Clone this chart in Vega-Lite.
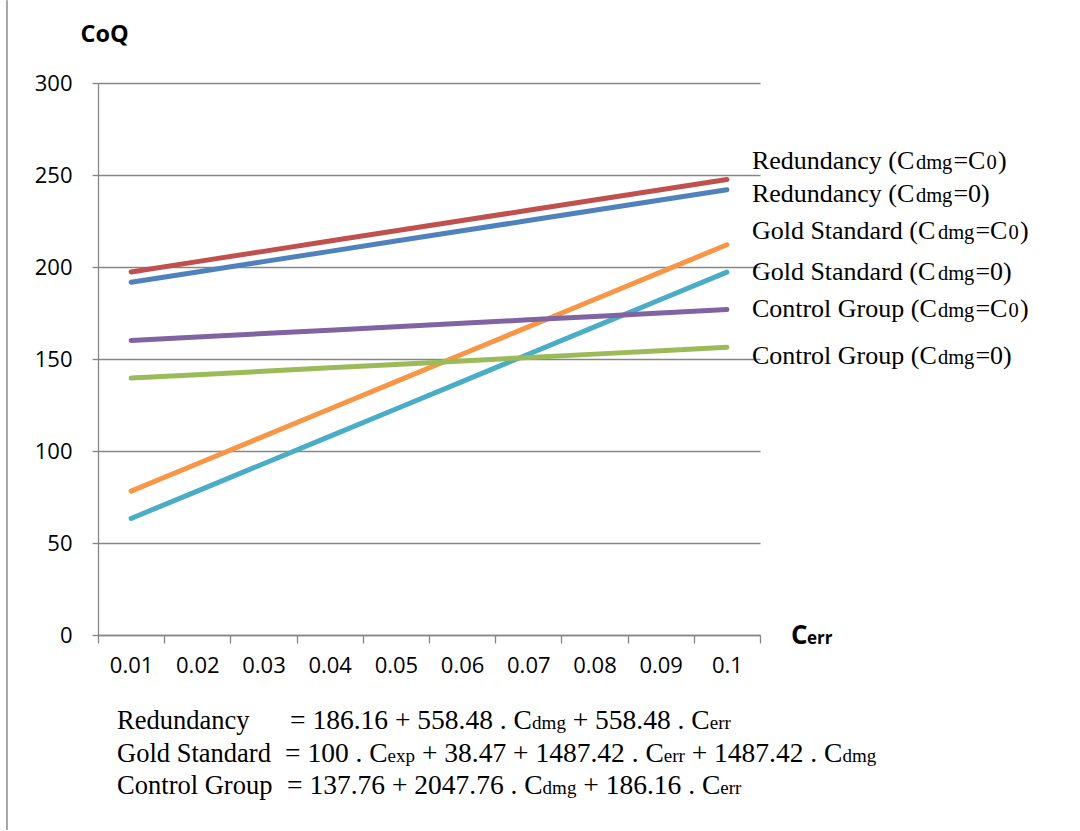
{
  "$schema": "https://vega.github.io/schema/vega-lite/v6.json",
  "width": 662,
  "height": 552,
  "autosize": {"type": "none"},
  "padding": {"left": 98, "top": 83, "right": 320, "bottom": 196},
  "background": "white",
  "config": {"view": {"stroke": null}},
  "datasets": {
    "lines": [
      {"s": "Redundancy (Cdmg=C0)", "x": 0.01, "v": 197.33}, {"s": "Redundancy (Cdmg=C0)", "x": 0.02, "v": 202.91}, {"s": "Redundancy (Cdmg=C0)", "x": 0.03, "v": 208.50}, {"s": "Redundancy (Cdmg=C0)", "x": 0.04, "v": 214.08}, {"s": "Redundancy (Cdmg=C0)", "x": 0.05, "v": 219.67}, {"s": "Redundancy (Cdmg=C0)", "x": 0.06, "v": 225.25}, {"s": "Redundancy (Cdmg=C0)", "x": 0.07, "v": 230.84}, {"s": "Redundancy (Cdmg=C0)", "x": 0.08, "v": 236.42}, {"s": "Redundancy (Cdmg=C0)", "x": 0.09, "v": 242.01}, {"s": "Redundancy (Cdmg=C0)", "x": 0.1, "v": 247.59},
      {"s": "Redundancy (Cdmg=0)", "x": 0.01, "v": 191.74}, {"s": "Redundancy (Cdmg=0)", "x": 0.02, "v": 197.33}, {"s": "Redundancy (Cdmg=0)", "x": 0.03, "v": 202.91}, {"s": "Redundancy (Cdmg=0)", "x": 0.04, "v": 208.50}, {"s": "Redundancy (Cdmg=0)", "x": 0.05, "v": 214.08}, {"s": "Redundancy (Cdmg=0)", "x": 0.06, "v": 219.67}, {"s": "Redundancy (Cdmg=0)", "x": 0.07, "v": 225.25}, {"s": "Redundancy (Cdmg=0)", "x": 0.08, "v": 230.84}, {"s": "Redundancy (Cdmg=0)", "x": 0.09, "v": 236.42}, {"s": "Redundancy (Cdmg=0)", "x": 0.1, "v": 242.01},
      {"s": "Gold Standard (Cdmg=C0)", "x": 0.01, "v": 78.22}, {"s": "Gold Standard (Cdmg=C0)", "x": 0.02, "v": 93.09}, {"s": "Gold Standard (Cdmg=C0)", "x": 0.03, "v": 107.97}, {"s": "Gold Standard (Cdmg=C0)", "x": 0.04, "v": 122.84}, {"s": "Gold Standard (Cdmg=C0)", "x": 0.05, "v": 137.72}, {"s": "Gold Standard (Cdmg=C0)", "x": 0.06, "v": 152.59}, {"s": "Gold Standard (Cdmg=C0)", "x": 0.07, "v": 167.46}, {"s": "Gold Standard (Cdmg=C0)", "x": 0.08, "v": 182.34}, {"s": "Gold Standard (Cdmg=C0)", "x": 0.09, "v": 197.21}, {"s": "Gold Standard (Cdmg=C0)", "x": 0.1, "v": 212.08},
      {"s": "Gold Standard (Cdmg=0)", "x": 0.01, "v": 63.34}, {"s": "Gold Standard (Cdmg=0)", "x": 0.02, "v": 78.22}, {"s": "Gold Standard (Cdmg=0)", "x": 0.03, "v": 93.09}, {"s": "Gold Standard (Cdmg=0)", "x": 0.04, "v": 107.97}, {"s": "Gold Standard (Cdmg=0)", "x": 0.05, "v": 122.84}, {"s": "Gold Standard (Cdmg=0)", "x": 0.06, "v": 137.72}, {"s": "Gold Standard (Cdmg=0)", "x": 0.07, "v": 152.59}, {"s": "Gold Standard (Cdmg=0)", "x": 0.08, "v": 167.46}, {"s": "Gold Standard (Cdmg=0)", "x": 0.09, "v": 182.34}, {"s": "Gold Standard (Cdmg=0)", "x": 0.1, "v": 197.21},
      {"s": "Control Group (Cdmg=C0)", "x": 0.01, "v": 160.10}, {"s": "Control Group (Cdmg=C0)", "x": 0.02, "v": 161.96}, {"s": "Control Group (Cdmg=C0)", "x": 0.03, "v": 163.82}, {"s": "Control Group (Cdmg=C0)", "x": 0.04, "v": 165.69}, {"s": "Control Group (Cdmg=C0)", "x": 0.05, "v": 167.55}, {"s": "Control Group (Cdmg=C0)", "x": 0.06, "v": 169.41}, {"s": "Control Group (Cdmg=C0)", "x": 0.07, "v": 171.27}, {"s": "Control Group (Cdmg=C0)", "x": 0.08, "v": 173.13}, {"s": "Control Group (Cdmg=C0)", "x": 0.09, "v": 174.99}, {"s": "Control Group (Cdmg=C0)", "x": 0.1, "v": 176.86},
      {"s": "Control Group (Cdmg=0)", "x": 0.01, "v": 139.62}, {"s": "Control Group (Cdmg=0)", "x": 0.02, "v": 141.48}, {"s": "Control Group (Cdmg=0)", "x": 0.03, "v": 143.34}, {"s": "Control Group (Cdmg=0)", "x": 0.04, "v": 145.21}, {"s": "Control Group (Cdmg=0)", "x": 0.05, "v": 147.07}, {"s": "Control Group (Cdmg=0)", "x": 0.06, "v": 148.93}, {"s": "Control Group (Cdmg=0)", "x": 0.07, "v": 150.79}, {"s": "Control Group (Cdmg=0)", "x": 0.08, "v": 152.65}, {"s": "Control Group (Cdmg=0)", "x": 0.09, "v": 154.51}, {"s": "Control Group (Cdmg=0)", "x": 0.1, "v": 156.38}
    ],
    "labels": [
      {"name": "Redundancy (C", "grp": "R", "c0": true, "mid": "=C", "ly": 253.3},
      {"name": "Redundancy (C", "grp": "R", "c0": false, "mid": "=0)", "ly": 235.3},
      {"name": "Gold Standard (C", "grp": "G", "c0": true, "mid": "=C", "ly": 215.2},
      {"name": "Gold Standard (C", "grp": "G", "c0": false, "mid": "=0)", "ly": 193.2},
      {"name": "Control Group (C", "grp": "G", "c0": true, "mid": "=C", "ly": 172.8},
      {"name": "Control Group (C", "grp": "G", "c0": false, "mid": "=0)", "ly": 147.3}
    ]
  },
  "layer": [
    {
      "data": {"values": [{"t": "border"}]},
      "mark": {"type": "rule", "color": "#A6A6A6", "strokeWidth": 2},
      "encoding": {"x": {"datum": -0.00875}, "y": {"datum": 345}, "y2": {"datum": -106}}
    },
    {
      "data": {"name": "lines"},
      "mark": {"type": "line", "strokeWidth": 5, "strokeCap": "round", "strokeJoin": "round"},
      "encoding": {
        "x": {
          "field": "x", "type": "quantitative",
          "scale": {"domain": [0.005, 0.105], "nice": false, "zero": false},
          "axis": {
            "values": [0.005, 0.015, 0.025, 0.035, 0.045, 0.055, 0.065, 0.075, 0.085, 0.095, 0.105],
            "labelExpr": "datum.value > 0.1 ? '' : format(datum.value + 0.005, '.2~f')",
            "labelOffset": 33.1, "labelFlush": false, "labelOverlap": false, "labelBound": false,
            "tickSize": 8, "tickColor": "#868686", "tickWidth": 1.3,
            "domainColor": "#868686", "domainWidth": 1.3,
            "grid": false, "title": null,
            "labelFont": "Open Sans", "labelFontSize": 22, "labelColor": "#000000", "labelPadding": 12
          }
        },
        "y": {
          "field": "v", "type": "quantitative",
          "scale": {"domain": [0, 300], "nice": false},
          "axis": {
            "values": [0, 50, 100, 150, 200, 250, 300],
            "tickSize": 6, "tickColor": "#868686", "tickWidth": 1.3,
            "domainColor": "#868686", "domainWidth": 1.3,
            "grid": true, "gridColor": "#868686", "gridWidth": 1.3,
            "labelFont": "Open Sans", "labelFontSize": 22, "labelColor": "#000000", "labelPadding": 20,
            "title": "CoQ", "titleAngle": 0, "titleX": -18, "titleY": -42, "titleAlign": "left", "titleBaseline": "alphabetic",
            "titleFont": "Open Sans", "titleFontWeight": "bold", "titleFontSize": 23.5, "titleColor": "#000000"
          }
        },
        "color": {
          "field": "s", "type": "nominal", "legend": null,
          "scale": {
            "domain": ["Redundancy (Cdmg=0)", "Redundancy (Cdmg=C0)", "Control Group (Cdmg=0)", "Control Group (Cdmg=C0)", "Gold Standard (Cdmg=0)", "Gold Standard (Cdmg=C0)"],
            "range": ["#4F81BD", "#C0504D", "#9BBB59", "#8064A2", "#4BACC6", "#F79646"]
          }
        }
      }
    },
    {
      "data": {"name": "labels"},
      "mark": {"type": "text", "align": "left", "baseline": "alphabetic", "dx": 25, "font": "Liberation Serif", "fontSize": 26, "color": "#000000"},
      "encoding": {"x": {"datum": 0.1}, "y": {"field": "ly", "type": "quantitative"}, "text": {"field": "name"}}
    },
    {
      "data": {"name": "labels"},
      "transform": [{"filter": "datum.grp == 'R'"}],
      "mark": {"type": "text", "align": "left", "baseline": "alphabetic", "dx": 189, "font": "Liberation Serif", "fontSize": 20.5, "color": "#000000"},
      "encoding": {"x": {"datum": 0.1}, "y": {"field": "ly", "type": "quantitative"}, "text": {"value": "dmg"}}
    },
    {
      "data": {"name": "labels"},
      "transform": [{"filter": "datum.grp == 'R'"}],
      "mark": {"type": "text", "align": "left", "baseline": "alphabetic", "dx": 226.5, "font": "Liberation Serif", "fontSize": 26, "color": "#000000"},
      "encoding": {"x": {"datum": 0.1}, "y": {"field": "ly", "type": "quantitative"}, "text": {"field": "mid"}}
    },
    {
      "data": {"name": "labels"},
      "transform": [{"filter": "datum.grp == 'R' && datum.c0"}],
      "mark": {"type": "text", "align": "left", "baseline": "alphabetic", "dx": 259.5, "font": "Liberation Serif", "fontSize": 20.5, "color": "#000000"},
      "encoding": {"x": {"datum": 0.1}, "y": {"field": "ly", "type": "quantitative"}, "text": {"value": "0"}}
    },
    {
      "data": {"name": "labels"},
      "transform": [{"filter": "datum.grp == 'R' && datum.c0"}],
      "mark": {"type": "text", "align": "left", "baseline": "alphabetic", "dx": 271, "font": "Liberation Serif", "fontSize": 26, "color": "#000000"},
      "encoding": {"x": {"datum": 0.1}, "y": {"field": "ly", "type": "quantitative"}, "text": {"value": ")"}}
    },
    {
      "data": {"name": "labels"},
      "transform": [{"filter": "datum.grp == 'G'"}],
      "mark": {"type": "text", "align": "left", "baseline": "alphabetic", "dx": 211, "font": "Liberation Serif", "fontSize": 20.5, "color": "#000000"},
      "encoding": {"x": {"datum": 0.1}, "y": {"field": "ly", "type": "quantitative"}, "text": {"value": "dmg"}}
    },
    {
      "data": {"name": "labels"},
      "transform": [{"filter": "datum.grp == 'G'"}],
      "mark": {"type": "text", "align": "left", "baseline": "alphabetic", "dx": 248.5, "font": "Liberation Serif", "fontSize": 26, "color": "#000000"},
      "encoding": {"x": {"datum": 0.1}, "y": {"field": "ly", "type": "quantitative"}, "text": {"field": "mid"}}
    },
    {
      "data": {"name": "labels"},
      "transform": [{"filter": "datum.grp == 'G' && datum.c0"}],
      "mark": {"type": "text", "align": "left", "baseline": "alphabetic", "dx": 281.5, "font": "Liberation Serif", "fontSize": 20.5, "color": "#000000"},
      "encoding": {"x": {"datum": 0.1}, "y": {"field": "ly", "type": "quantitative"}, "text": {"value": "0"}}
    },
    {
      "data": {"name": "labels"},
      "transform": [{"filter": "datum.grp == 'G' && datum.c0"}],
      "mark": {"type": "text", "align": "left", "baseline": "alphabetic", "dx": 293, "font": "Liberation Serif", "fontSize": 26, "color": "#000000"},
      "encoding": {"x": {"datum": 0.1}, "y": {"field": "ly", "type": "quantitative"}, "text": {"value": ")"}}
    },
    {
      "data": {"values": [{"t": "C"}]},
      "mark": {"type": "text", "align": "left", "baseline": "alphabetic", "dx": 31, "dy": 9, "font": "Open Sans", "fontWeight": "bold", "fontSize": 26, "color": "#000000"},
      "encoding": {"x": {"datum": 0.105}, "y": {"datum": 0}, "text": {"field": "t"}}
    },
    {
      "data": {"values": [{"t": "err"}]},
      "mark": {"type": "text", "align": "left", "baseline": "alphabetic", "dx": 47, "dy": 9, "font": "Open Sans", "fontWeight": "bold", "fontSize": 17, "color": "#000000"},
      "encoding": {"x": {"datum": 0.105}, "y": {"datum": 0}, "text": {"field": "t"}}
    },
    {
      "data": {"values": [{"t": "Redundancy"}]},
      "mark": {"type": "text", "align": "left", "baseline": "alphabetic", "dx": -14, "font": "Liberation Serif", "fontSize": 26.5, "color": "#000000"},
      "encoding": {"x": {"datum": 0.01}, "y": {"datum": -51}, "text": {"field": "t"}}
    },
    {
      "data": {"values": [{"t": "= 186.16 + 558.48 . C"}]},
      "mark": {"type": "text", "align": "left", "baseline": "alphabetic", "dx": 159, "font": "Liberation Serif", "fontSize": 27.5, "color": "#000000"},
      "encoding": {"x": {"datum": 0.01}, "y": {"datum": -51}, "text": {"field": "t"}}
    },
    {
      "data": {"values": [{"t": "dmg"}]},
      "mark": {"type": "text", "align": "left", "baseline": "alphabetic", "dx": 401, "font": "Liberation Serif", "fontSize": 19, "color": "#000000"},
      "encoding": {"x": {"datum": 0.01}, "y": {"datum": -51}, "text": {"field": "t"}}
    },
    {
      "data": {"values": [{"t": "+ 558.48 . C"}]},
      "mark": {"type": "text", "align": "left", "baseline": "alphabetic", "dx": 441.6, "font": "Liberation Serif", "fontSize": 27.5, "color": "#000000"},
      "encoding": {"x": {"datum": 0.01}, "y": {"datum": -51}, "text": {"field": "t"}}
    },
    {
      "data": {"values": [{"t": "err"}]},
      "mark": {"type": "text", "align": "left", "baseline": "alphabetic", "dx": 578.6, "font": "Liberation Serif", "fontSize": 19, "color": "#000000"},
      "encoding": {"x": {"datum": 0.01}, "y": {"datum": -51}, "text": {"field": "t"}}
    },
    {
      "data": {"values": [{"t": "Gold Standard"}]},
      "mark": {"type": "text", "align": "left", "baseline": "alphabetic", "dx": -14, "font": "Liberation Serif", "fontSize": 26.5, "color": "#000000"},
      "encoding": {"x": {"datum": 0.01}, "y": {"datum": -69}, "text": {"field": "t"}}
    },
    {
      "data": {"values": [{"t": "= 100 . C"}]},
      "mark": {"type": "text", "align": "left", "baseline": "alphabetic", "dx": 154, "font": "Liberation Serif", "fontSize": 27.5, "color": "#000000"},
      "encoding": {"x": {"datum": 0.01}, "y": {"datum": -69}, "text": {"field": "t"}}
    },
    {
      "data": {"values": [{"t": "exp"}]},
      "mark": {"type": "text", "align": "left", "baseline": "alphabetic", "dx": 256.5, "font": "Liberation Serif", "fontSize": 19, "color": "#000000"},
      "encoding": {"x": {"datum": 0.01}, "y": {"datum": -69}, "text": {"field": "t"}}
    },
    {
      "data": {"values": [{"t": "+ 38.47 + 1487.42 . C"}]},
      "mark": {"type": "text", "align": "left", "baseline": "alphabetic", "dx": 290.8, "font": "Liberation Serif", "fontSize": 27.5, "color": "#000000"},
      "encoding": {"x": {"datum": 0.01}, "y": {"datum": -69}, "text": {"field": "t"}}
    },
    {
      "data": {"values": [{"t": "err"}]},
      "mark": {"type": "text", "align": "left", "baseline": "alphabetic", "dx": 532.7, "font": "Liberation Serif", "fontSize": 19, "color": "#000000"},
      "encoding": {"x": {"datum": 0.01}, "y": {"datum": -69}, "text": {"field": "t"}}
    },
    {
      "data": {"values": [{"t": "+ 1487.42 . C"}]},
      "mark": {"type": "text", "align": "left", "baseline": "alphabetic", "dx": 560.6, "font": "Liberation Serif", "fontSize": 27.5, "color": "#000000"},
      "encoding": {"x": {"datum": 0.01}, "y": {"datum": -69}, "text": {"field": "t"}}
    },
    {
      "data": {"values": [{"t": "dmg"}]},
      "mark": {"type": "text", "align": "left", "baseline": "alphabetic", "dx": 711.3, "font": "Liberation Serif", "fontSize": 19, "color": "#000000"},
      "encoding": {"x": {"datum": 0.01}, "y": {"datum": -69}, "text": {"field": "t"}}
    },
    {
      "data": {"values": [{"t": "Control Group"}]},
      "mark": {"type": "text", "align": "left", "baseline": "alphabetic", "dx": -14, "font": "Liberation Serif", "fontSize": 26.5, "color": "#000000"},
      "encoding": {"x": {"datum": 0.01}, "y": {"datum": -86.5}, "text": {"field": "t"}}
    },
    {
      "data": {"values": [{"t": "= 137.76 + 2047.76 . C"}]},
      "mark": {"type": "text", "align": "left", "baseline": "alphabetic", "dx": 156, "font": "Liberation Serif", "fontSize": 27.5, "color": "#000000"},
      "encoding": {"x": {"datum": 0.01}, "y": {"datum": -86.5}, "text": {"field": "t"}}
    },
    {
      "data": {"values": [{"t": "dmg"}]},
      "mark": {"type": "text", "align": "left", "baseline": "alphabetic", "dx": 411.5, "font": "Liberation Serif", "fontSize": 19, "color": "#000000"},
      "encoding": {"x": {"datum": 0.01}, "y": {"datum": -86.5}, "text": {"field": "t"}}
    },
    {
      "data": {"values": [{"t": "+ 186.16 . C"}]},
      "mark": {"type": "text", "align": "left", "baseline": "alphabetic", "dx": 452.2, "font": "Liberation Serif", "fontSize": 27.5, "color": "#000000"},
      "encoding": {"x": {"datum": 0.01}, "y": {"datum": -86.5}, "text": {"field": "t"}}
    },
    {
      "data": {"values": [{"t": "err"}]},
      "mark": {"type": "text", "align": "left", "baseline": "alphabetic", "dx": 589.2, "font": "Liberation Serif", "fontSize": 19, "color": "#000000"},
      "encoding": {"x": {"datum": 0.01}, "y": {"datum": -86.5}, "text": {"field": "t"}}
    }
  ]
}
